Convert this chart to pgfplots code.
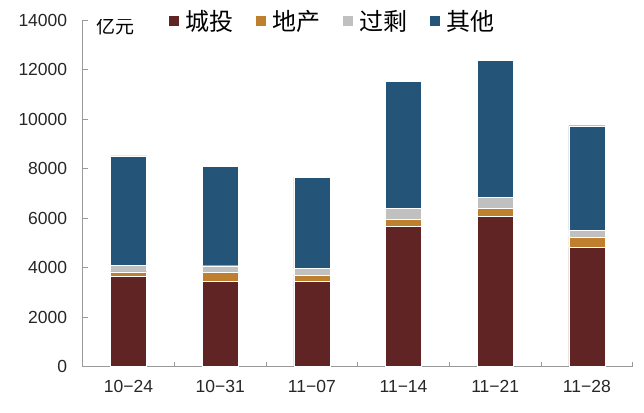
\documentclass[border=0pt]{standalone}
\usepackage{pgfplots}
\pgfplotsset{compat=1.18}
\usepackage{fontspec}
\setmainfont{Liberation Sans}
\newfontfamily\cjk{Noto Sans CJK SC}
\definecolor{cred}{HTML}{612424}
\definecolor{corange}{HTML}{BE7F2E}
\definecolor{cgray}{HTML}{C0C0C0}
\definecolor{cblue}{HTML}{245478}
\definecolor{axgray}{HTML}{9A9A9A}
\begin{document}
\begin{tikzpicture}
\begin{axis}[name=ax, scale only axis, width=550pt, height=346.5pt,
  xmin=-0.5, xmax=5.5, ymin=0, ymax=14000,
  ybar stacked, bar width=36pt,
  axis x line*=bottom, axis y line*=left,
  axis line style={draw=axgray, line width=0.8pt},
  xtick={0,1,2,3,4,5},
  xticklabels={10−24,10−31,11−07,11−14,11−21,11−28},
  major x tick style={draw=none},
  minor xtick={0.5,1.5,2.5,3.5,4.5,5.5},
  minor tick length=5pt,
  major tick length=5pt,
  ytick={0,2000,...,14000},
  scaled y ticks=false,
  tick align=inside,
  tick style={draw=axgray, line width=0.8pt},
  /pgf/number format/1000 sep={},
  /pgf/number format/assume math mode=true,
  tick label style={font=\fontsize{17.5}{17.5}\selectfont, text=black!85},
  yticklabel style={xshift=-12pt},
  xticklabel style={yshift=-10pt},
  legend image code/.code={\fill[#1] (0pt,-5.5pt) rectangle (11pt,5.5pt);},
  legend columns=4,
  legend style={at={(axis description cs:0.155,0.997)}, anchor=west, draw=none, fill=none,
    inner sep=0pt, font=\cjk\fontsize{24}{24}\selectfont,
    /tikz/every odd column/.append style={column sep=4pt},
    /tikz/every even column/.append style={column sep=19.5pt}},
  every axis plot/.append style={draw=white, line width=0.4pt},
]
\addplot[fill=cred] coordinates {(0,3656) (1,3442) (2,3442) (3,5676) (4,6068) (5,4800)};
\addplot[fill=corange] coordinates {(0,174) (1,348) (2,242) (3,283) (4,335) (5,432)};
\addplot[fill=cgray] coordinates {(0,271) (1,282) (2,295) (3,432) (4,433) (5,283)};
\addplot[fill=cblue] coordinates {(0,4404) (1,4028) (2,3665) (3,5131) (4,5547) (5,4213)};
\legend{城投,地产,过剩,其他}
\node[anchor=west, inner sep=0pt, font=\cjk\fontsize{19}{19}\selectfont] at (axis description cs:0.024,0.981) {亿元};
\end{axis}
\pgfresetboundingbox
\path (ax.south west) ++(-82.7pt,-45.5pt) rectangle ++(644pt,412pt);
\end{tikzpicture}
\end{document}
